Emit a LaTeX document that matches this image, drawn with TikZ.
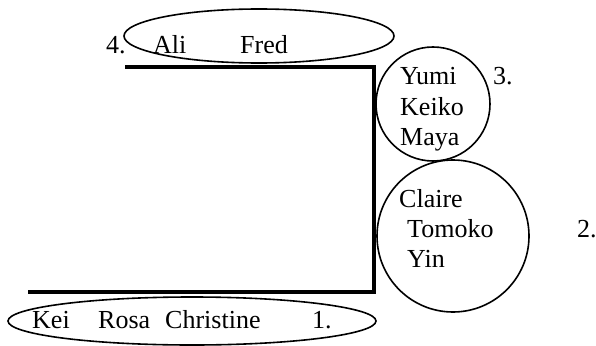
\documentclass[tikz,border=0pt]{standalone}
\usepackage{fontspec}
\setmainfont{Liberation Serif}
\begin{document}
\begin{tikzpicture}[x=1pt,y=-1pt,
  lbl/.style={anchor=base west,inner sep=0pt,font=\fontsize{26}{31}\selectfont},
  ring/.style={line width=1.6pt}]
\useasboundingbox (0,0) rectangle (596,345);
% frame
\draw[line width=4.5pt,line join=miter] (125,67) -- (374,67) -- (374,292) -- (28,292);
% groups
\draw[ring] (259,36) ellipse [x radius=135pt,y radius=27pt];
\draw[ring] (433,104) circle [radius=57pt];
\draw[ring] (453,236) circle [radius=76pt];
\draw[ring] (192,321) ellipse [x radius=184pt,y radius=24pt];

\node[lbl] (n4) at (106,53) {4.};
\node[lbl] (ali) at (153,53) {Ali};
\node[lbl] (fred) at (240,53) {Fred};

\node[lbl] (n3) at (493,84) {3.};
\node[lbl] (yumi) at (400,84) {Yumi};
\node[lbl] (keiko) at (400,115) {Keiko};
\node[lbl] (maya) at (400,145) {Maya};

\node[lbl] (n2) at (577,237) {2.};
\node[lbl] (claire) at (399,207) {Claire};
\node[lbl] (tomoko) at (407,237) {Tomoko};
\node[lbl] (yin) at (407,267) {Yin};

\node[lbl] (n1) at (312,328) {1.};
\node[lbl] (kei) at (32,328) {Kei};
\node[lbl] (rosa) at (98,328) {Rosa};
\node[lbl] (christine) at (165,328) {Christine};
\end{tikzpicture}
\end{document}
